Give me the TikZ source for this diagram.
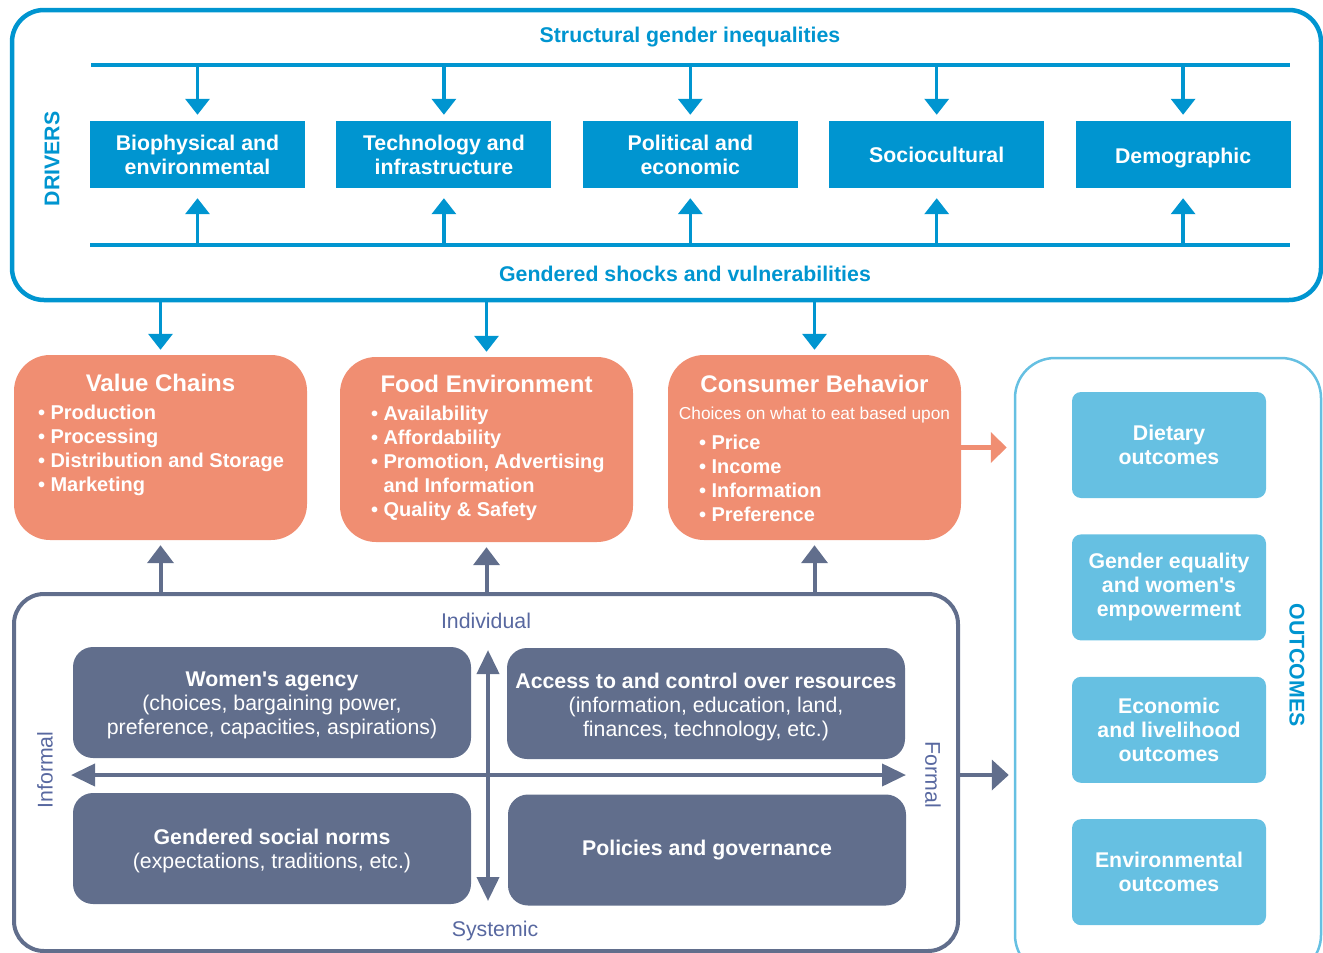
\documentclass[tikz,border=0pt]{standalone}
\usepackage{fontspec}
\setmainfont{Liberation Sans}
\usetikzlibrary{positioning, arrows.meta}
\definecolor{drvblue}{RGB}{0,149,208}
\definecolor{fsorange}{RGB}{240,142,114}
\definecolor{slate}{RGB}{97,110,140}
\definecolor{outblue}{RGB}{102,192,226}
\definecolor{axislbl}{RGB}{88,104,160}
\newcommand{\fsz}{\fontsize{21.3}{24}\selectfont}
\newcommand{\lsz}{\fontsize{20}{24}\selectfont}
\newcommand{\tsz}{\fontsize{24}{28}\selectfont}
\newcommand{\ssz}{\fontsize{17.3}{20}\selectfont}
\tikzset{
  >={Triangle[width=24pt,length=16pt]},
  bigframe/.style={draw, rounded corners=#1, inner sep=0pt},
  drvbox/.style={fill=drvblue, text=white, font=\fsz\bfseries, minimum width=215pt, minimum height=67pt, inner sep=0pt, align=center},
  drvtext/.style={text=drvblue, font=\fsz\bfseries},
  fsbox/.style={fill=fsorange, rounded corners=36pt, minimum width=293pt, minimum height=185pt},
  fstitle/.style={text=white, font=\tsz\bfseries},
  fslist/.style={text=white, font=\lsz\bfseries, align=left, inner sep=0pt},
  leverbox/.style={fill=slate, text=white, font=\fsz, rounded corners=20pt, minimum width=398pt, minimum height=111pt, inner sep=0pt, align=center},
  outbox/.style={fill=outblue, text=white, font=\fsz\bfseries, rounded corners=9pt, minimum width=194pt, minimum height=106pt, inner sep=0pt, align=center},
  axislabel/.style={text=axislbl, font=\fsz},
  drvarrow/.style={draw=drvblue, line width=3.5pt, ->},
  leverarrow/.style={draw=slate, line width=4pt, -{Triangle[width=26pt,length=18pt]}},
  axisarrow/.style={draw=slate, line width=4pt, {Triangle[width=22pt,length=24pt]}-{Triangle[width=22pt,length=24pt]}},
}

\begin{document}
\begin{tikzpicture}[x=1pt, y=-1pt]
  \useasboundingbox (0,0) rectangle (1323,953);

  % drivers
  \node[bigframe=32pt, draw=drvblue, line width=4.5pt, minimum width=1309pt, minimum height=290pt] (drivers) at (666.5,155) {};
  \node[drvtext] (sgi) at (690,37) {Structural gender inequalities};
  \node[drvtext] (gsv) at (685,274) {Gendered shocks and vulnerabilities};
  \node[drvtext, rotate=90] (drvlbl) at (52,159) {DRIVERS};
  \coordinate (sgi-w) at (91,65);
  \coordinate (sgi-e) at (1290,65);
  \coordinate (gsv-w) at (90,245);
  \coordinate (gsv-e) at (1290,245);
  \draw[drvblue, line width=3.5pt] (sgi-w) -- (sgi-e);
  \draw[drvblue, line width=3.5pt] (gsv-w) -- (gsv-e);

  \node[drvbox] (bio) at (197.5,154.5) {Biophysical and\\environmental};
  \node[drvbox, right=31pt of bio] (tech) {Technology and\\infrastructure};
  \node[drvbox, right=31pt of tech] (pol) {Political and\\economic};
  \node[drvbox, right=31pt of pol] (soc) {Sociocultural};
  \node[drvbox, right=31pt of soc, text height=22pt] (dem) {Demographic};
  \foreach \b in {bio,tech,pol,soc,dem} {
    \draw[drvarrow] (\b.north |- sgi-w) -- ([yshift=6pt]\b.north);
    \draw[drvarrow] (\b.south |- gsv-w) -- ([yshift=-10pt]\b.south);
  }

  % food system
  \node[fsbox] (vc) at (160.5,447.5) {};
  \node[fsbox] (fe) at (486.5,449.5) {};
  \node[fsbox] (cb) at (814.5,447.5) {};
  \foreach \b in {vc,fe,cb}
    \draw[drvarrow] (\b.north |- drivers.south) -- ([yshift=5pt]\b.north);

  \node[fstitle] (vc-t) at ([yshift=-28pt]vc.north) {Value Chains};
  \node[fslist, below right=50pt and 24pt of vc.north west] (vc-l) {\textbullet\ Production\\\textbullet\ Processing\\\textbullet\ Distribution and Storage\\\textbullet\ Marketing};
  \node[fstitle] (fe-t) at ([yshift=-27pt]fe.north) {Food Environment};
  \node[fslist, below right=49pt and 31pt of fe.north west] (fe-l) {\textbullet\ Availability\\\textbullet\ Affordability\\\textbullet\ Promotion, Advertising\\\phantom{\textbullet\ }and Information\\\textbullet\ Quality \& Safety};
  \node[fstitle] (cb-t) at ([yshift=-29pt]cb.north) {Consumer Behavior};
  \node[text=white, font=\ssz] (cb-s) at ([yshift=-60pt]cb.north) {Choices on what to eat based upon};
  \node[fslist, below right=80pt and 31pt of cb.north west] (cb-l) {\textbullet\ Price\\\textbullet\ Income\\\textbullet\ Information\\\textbullet\ Preference};

  % outcomes
  \node[bigframe=40pt, draw=outblue, line width=2.5pt, minimum width=306pt, minimum height=617pt] (outcomes) at (1168,666.5) {};
  \node[outbox] (diet) at (1169,445) {Dietary\\outcomes};
  \node[outbox, below=36pt of diet] (geq) {Gender equality\\and women\textquotesingle s\\empowerment};
  \node[outbox, below=36pt of geq] (econ) {Economic\\and livelihood\\outcomes};
  \node[outbox, below=36pt of econ] (envo) {Environmental\\outcomes};
  \node[drvtext, rotate=-90] (outlbl) at (1297,665) {OUTCOMES};
  \draw[draw=fsorange, line width=5pt, -{Triangle[width=30pt,length=16pt]}, shorten >=7pt] (cb.east) -- (outcomes.west |- cb.east);

  % levers
  \node[bigframe=30pt, draw=slate, line width=4pt, minimum width=944pt, minimum height=357pt] (levers) at (486,772.5) {};
  \foreach \b in {vc,fe,cb}
    \draw[leverarrow] (\b.south |- levers.north) -- ([yshift=-5pt]\b.south);

  \node[leverbox] (agency) at (272,702.5) {};
  \node[leverbox] (access) at (706,703.5) {};
  \node[leverbox] (norms) at (272,848.5) {};
  \node[leverbox, font=\fsz\bfseries] (policy) at (707,850) {Policies and governance};
  \node[text=white, font=\fsz, align=center] (agency-t) at ([yshift=-3pt]agency.center) {\textbf{Women\textquotesingle s agency}\\(choices, bargaining power,\\preference, capacities, aspirations)};
  \node[text=white, font=\fsz, align=center] (access-t) at ([yshift=-3pt]access.center) {\textbf{Access to and control over resources}\\(information, education, land,\\finances, technology, etc.)};
  \node[text=white, font=\fsz, align=center] (norms-t) at ([yshift=-2pt]norms.center) {\textbf{Gendered social norms}\\(expectations, traditions, etc.)};

  \node[axislabel] (indiv) at (486,621) {Individual};
  \node[axislabel] (syst) at (495,931) {Systemic};
  \node[axislabel, rotate=90] (infml) at (45,770) {Informal};
  \node[axislabel, rotate=-90] (fml) at (933,775) {Formal};
  \coordinate (ax-n) at (488,650);
  \coordinate (ax-s) at (488,901);
  \coordinate (ax-w) at (71,775);
  \coordinate (ax-e) at (906,775);
  \draw[axisarrow] (ax-n) -- (ax-s);
  \draw[axisarrow] (ax-w) -- (ax-e);
  \draw[leverarrow, -{Triangle[width=30pt,length=17pt]}, shorten >=5pt] (levers.east |- ax-e) -- (outcomes.west |- ax-e);
\end{tikzpicture}
\end{document}
